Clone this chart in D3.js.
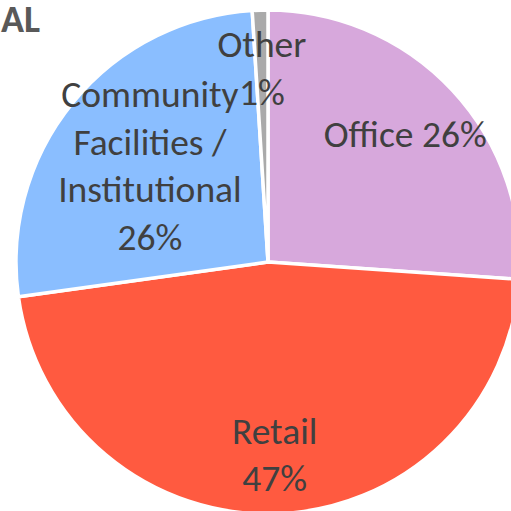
<!DOCTYPE html>
<html>
<head>
<meta charset="utf-8">
<script src="https://cdn.jsdelivr.net/npm/d3@7"></script>
<style>
  html, body { margin: 0; padding: 0; background: #fff; overflow: hidden; }
  text { font-family: Carlito, Lato, "Open Sans", sans-serif; fill: #404040; }
</style>
</head>
<body>
<div id="container"></div>
<script>
/* CONSTANTS AND GLOBALS */
const width = 511,
  height = 511,
  center = { x: 268, y: 262 },
  radius = 252;

// DATA (share of floor area)
const categories = ["Office", "Retail", "Community Facilities / Institutional", "Other"];
const values = [26.1, 46.7, 26.2, 1.0];
const labelLines = [
  ["Office 26%"],
  ["Retail", "47%"],
  ["Community", "Facilities /", "Institutional", "26%"],
  ["Other", "1%"]
];
const colors = ["#D7A8DC", "#FF5A40", "#8ABEFF", "#AAAAAA"];

// how far out each label sits, as a share of the radius
const labelRadius = [0.745, 0.765, 0.605, 0.77];

const data = categories.map((c, i) => ({ category: c, value: values[i], lines: labelLines[i], i }));

const svg = d3.select("#container").append("svg")
  .attr("width", width)
  .attr("height", height);

const color = d3.scaleOrdinal()
  .domain(categories)
  .range(colors);

const pie = d3.pie()
  .sort(null)
  .value(d => d.value);

const arcs = pie(data);

const arcGen = d3.arc()
  .innerRadius(0)
  .outerRadius(radius);

const g = svg.append("g")
  .attr("transform", `translate(${center.x}, ${center.y})`);

g.selectAll("path.slice")
  .data(arcs)
  .join("path")
  .attr("class", "slice")
  .attr("d", arcGen)
  .attr("fill", d => color(d.data.category))
  .attr("stroke", "white")
  .attr("stroke-width", 3.5)
  .attr("stroke-linejoin", "round");

// LABELS
const fontSize = 37.5,
  lineHeight = 47.5,
  capHalf = 13;

const labels = g.selectAll("text.label")
  .data(arcs)
  .join("text")
  .attr("class", "label")
  .attr("text-anchor", "middle")
  .attr("font-size", fontSize)
  .attr("transform", d => {
    const r = radius * labelRadius[d.data.i];
    const [x, y] = d3.arc().innerRadius(r).outerRadius(r).centroid(d);
    return `translate(${x}, ${y})`;
  });

labels.selectAll("tspan")
  .data(d => d.data.lines.map((t, j, arr) => ({ t, j, n: arr.length })))
  .join("tspan")
  .attr("x", 0)
  .attr("y", d => (d.j - (d.n - 1) / 2) * lineHeight + capHalf)
  .text(d => d.t);

// TITLE
svg.append("text")
  .attr("x", 1)
  .attr("y", 32)
  .attr("font-size", 38)
  .attr("font-weight", "bold")
  .style("fill", "#595959")
  .text("AL");
</script>
</body>
</html>
